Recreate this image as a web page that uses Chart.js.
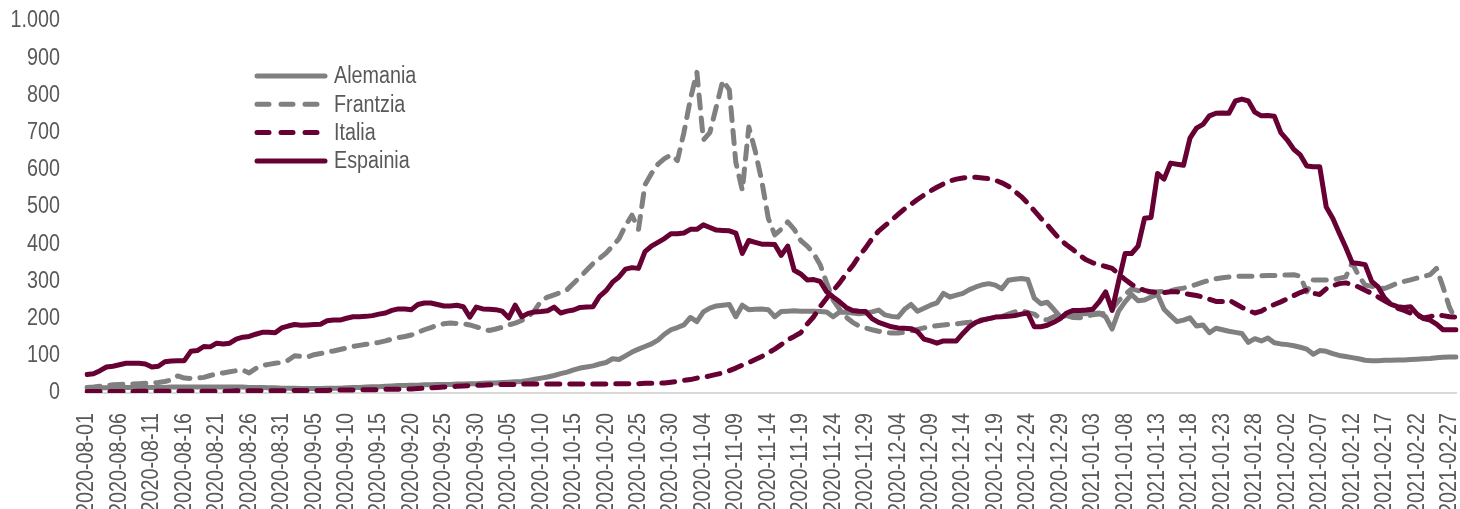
<!DOCTYPE html>
<html>
<head>
<meta charset="utf-8">
<script src="https://cdn.jsdelivr.net/npm/chart.js@4.4.1/dist/chart.umd.min.js"></script>
<style>
html,body{margin:0;padding:0;background:#ffffff;overflow:hidden;}
canvas{display:block;}
</style>
</head>
<body>
<canvas id="c" width="1460" height="509"></canvas>
<script>
// ---- categories: daily dates 2020-08-01 .. 2021-02-28 ----
const START_DATE = '2020-08-01';
const N_DAYS = 212;
const dates = [];
for (let i = 0; i < N_DAYS; i++) {
  const d = new Date(START_DATE + 'T00:00:00Z');
  d.setUTCDate(d.getUTCDate() + i);
  dates.push(d.toISOString().slice(0, 10));
}
const LABEL_EVERY = 5;

// ---- series names ----
const seriesNames = ['Alemania', 'Frantzia', 'Italia', 'Espainia'];

// ---- series values ----
const alemania = [
 14,14,14,14,14,15,15,15,15,15,
 15,15,15,16,16,16,16,16,16,16,
 16,16,16,16,16,15,15,15,14,14,
 13,13,13,12,12,12,12,13,13,13,
 14,15,15,16,17,17,18,19,20,20,
 21,21,22,22,23,23,23,24,24,25,
 25,26,27,27,28,29,30,31,34,37,
 40,43,47,52,56,62,67,70,73,78,
 82,92,90,100,110,118,125,132,142,158,
 170,176,183,203,192,218,228,234,236,238,
 205,236,224,225,226,224,205,219,220,221,
 220,220,220,219,218,205,218,217,215,213,
 215,218,223,210,206,204,225,238,220,228,
 236,242,268,258,263,268,278,285,291,294,
 290,280,303,306,308,305,255,240,244,225,
 205,208,212,213,213,214,215,205,172,220,
 245,265,248,250,258,265,225,208,192,196,
 202,180,183,162,174,170,166,163,160,136,
 146,140,148,135,132,130,127,123,118,104,
 114,112,106,101,98,95,92,88,87,87,
 88,88,89,89,90,91,92,93,95,96,
 97,97
];
const frantzia = [
 15,16,18,20,22,23,24,24,25,26,
 27,28,31,35,46,40,39,40,42,47,
 52,54,57,60,62,54,66,74,77,80,
 82,88,100,98,97,103,106,110,113,117,
 121,125,128,131,133,136,140,145,149,152,
 156,163,170,176,182,186,188,187,186,183,
 178,172,168,172,177,183,188,195,205,222,
 248,258,264,270,278,295,312,330,348,362,
 376,395,415,450,478,440,560,590,615,630,
 640,625,700,790,862,680,700,770,840,815,
 620,545,715,650,570,470,425,440,460,440,
 410,395,375,345,296,250,225,204,190,180,
 175,170,166,163,161,161,163,167,171,175,
 178,181,183,185,186,188,190,193,197,200,
 203,206,212,218,222,216,212,200,196,205,
 210,208,203,202,206,210,212,215,225,248,
 265,280,275,272,271,272,273,275,279,282,
 286,292,298,303,307,310,312,313,314,314,
 314,315,316,316,317,317,318,314,272,304,
 304,304,304,308,312,350,315,290,287,283,
 281,288,296,300,304,309,313,318,335,285,
 230,195
];
const italia = [
 4,4,4,4,4,4,4,4,5,5,
 5,5,5,5,5,5,5,5,5,5,
 5,5,5,6,6,6,6,6,6,6,
 6,6,7,7,7,7,7,7,8,8,
 8,8,9,9,9,9,10,10,10,11,
 11,12,13,14,15,16,17,18,19,20,
 21,21,22,22,23,23,23,24,24,24,
 24,24,24,24,24,24,24,24,24,24,
 24,25,25,25,25,25,26,26,26,27,
 29,31,34,36,40,42,46,50,54,60,
 67,75,82,90,98,108,118,130,143,152,
 162,185,205,232,255,275,296,320,342,368,
 390,415,435,450,465,480,495,507,520,532,
 543,553,562,570,575,578,580,580,578,576,
 572,565,556,542,528,510,490,470,452,432,
 412,398,385,370,358,350,345,340,335,320,
 305,292,282,276,272,270,270,272,272,268,
 265,262,258,252,246,246,250,240,230,222,
 215,220,230,238,245,253,262,270,277,268,
 265,280,288,294,296,292,285,276,268,258,
 248,238,228,222,215,208,202,205,210,208,
 205,204
];
const espainia = [
 50,52,60,70,72,76,80,80,80,78,
 70,72,84,86,87,87,112,114,125,124,
 134,132,134,145,150,152,158,163,163,162,
 175,180,184,182,183,184,185,194,196,196,
 201,205,205,206,208,212,215,222,226,226,
 224,238,242,242,238,234,234,236,232,204,
 231,226,225,224,220,202,236,205,214,218,
 219,221,231,215,220,223,230,231,232,260,
 275,298,312,333,337,335,380,395,405,415,
 428,428,430,440,440,452,445,438,437,436,
 430,375,410,405,400,400,399,370,395,330,
 320,304,305,300,272,258,245,230,222,220,
 219,200,190,184,178,175,174,173,165,145,
 140,134,140,140,140,160,178,190,196,200,
 204,205,206,208,212,215,178,178,182,190,
 200,215,222,222,223,225,245,272,222,300,
 375,375,395,470,472,590,575,618,615,612,
 685,712,722,745,752,753,752,785,790,785,
 755,745,746,744,700,680,655,640,610,608,
 608,500,470,430,392,350,348,345,300,285,
 255,238,232,230,232,212,200,196,185,170,
 170,170
];

// ---- y tick labels ----
const yMin = 0, yMax = 1000, yStep = 100;

// ---- styles ----
const GREY = '#808080';
const MAROON = '#670033';
const TEXT = '#595959';
const FONT = "'Liberation Sans', Arial, sans-serif";
const FONT_SIZE = 23.5;
const CONDENSE = 0.84;   // emulate a narrow face (Arial Narrow look)
const DASH = [13, 10];

function fmtThousands(v) {
  return String(v).replace(/\B(?=(\d{3})+(?!\d))/g, '.');
}

const canvas = document.getElementById('c');
const ctx2d = canvas.getContext('2d');
// horizontally condense all canvas text around its anchor (text stays real text)
(function () {
  const origFill = ctx2d.fillText;
  const origMeasure = ctx2d.measureText;
  ctx2d.fillText = function (text, x, y, maxWidth) {
    this.save();
    this.translate(x, y);
    this.scale(CONDENSE, 1);
    if (maxWidth === undefined) origFill.call(this, text, 0, 0);
    else origFill.call(this, text, 0, 0, maxWidth / CONDENSE);
    this.restore();
  };
  ctx2d.measureText = function (text) {
    const m = origMeasure.call(this, text);
    return {
      width: m.width * CONDENSE,
      actualBoundingBoxAscent: m.actualBoundingBoxAscent,
      actualBoundingBoxDescent: m.actualBoundingBoxDescent,
      actualBoundingBoxLeft: m.actualBoundingBoxLeft * CONDENSE,
      actualBoundingBoxRight: m.actualBoundingBoxRight * CONDENSE
    };
  };
})();

const datasets = [
  { label: seriesNames[0], data: alemania, borderColor: GREY, borderDash: [], order: 3 },
  { label: seriesNames[1], data: frantzia, borderColor: GREY, borderDash: DASH, order: 2 },
  { label: seriesNames[2], data: italia, borderColor: MAROON, borderDash: DASH, order: 1 },
  { label: seriesNames[3], data: espainia, borderColor: MAROON, borderDash: [], order: 0 }
].map(d => Object.assign({
  borderWidth: 5,
  pointRadius: 0,
  pointHoverRadius: 0,
  tension: 0,
  fill: false,
  borderCapStyle: 'round',
  borderJoinStyle: 'round'
}, d));

const insideLegend = {
  id: 'insideLegend',
  afterDatasetsDraw(chart) {
    const ctx = chart.ctx;
    const x0 = 257, x1 = 325, tx = 334, y0 = 76, dy = 28.3;
    ctx.save();
    chart.data.datasets.forEach((ds, i) => {
      const y = y0 + i * dy;
      ctx.beginPath();
      ctx.lineWidth = 5;
      ctx.lineCap = 'round';
      ctx.strokeStyle = ds.borderColor;
      ctx.setLineDash(ds.borderDash.length ? [12, 12] : []);
      ctx.moveTo(x0, y);
      ctx.lineTo(x1, y);
      ctx.stroke();
      ctx.setLineDash([]);
      ctx.fillStyle = TEXT;
      ctx.font = FONT_SIZE + 'px ' + FONT;
      ctx.textBaseline = 'middle';
      ctx.textAlign = 'left';
      ctx.fillText(ds.label, tx, y + 1);
    });
    ctx.restore();
  }
};

Chart.defaults.font.family = FONT;
Chart.defaults.font.size = FONT_SIZE;
Chart.defaults.color = TEXT;

new Chart(ctx2d, {
  type: 'line',
  data: { labels: dates, datasets: datasets },
  options: {
    responsive: false,
    animation: false,
    devicePixelRatio: 1,
    layout: { padding: { top: 21, right: 4, left: 0, bottom: 0 } },
    plugins: { legend: { display: false }, tooltip: { enabled: false } },
    scales: {
      x: {
        type: 'category',
        offset: false,
        grid: { display: false, drawTicks: false },
        border: { display: true, color: '#d9d9d9', width: 2 },
        ticks: {
          autoSkip: false,
          minRotation: 90,
          maxRotation: 90,
          padding: 20,
          color: TEXT,
          font: { size: FONT_SIZE, family: FONT },
          callback: function (val, idx) {
            return idx % LABEL_EVERY === 0 ? dates[idx] : null;
          }
        },
        afterFit: function (s) { s.height = 116; s.paddingLeft = 0; s.paddingRight = 0; }
      },
      y: {
        min: yMin,
        max: yMax,
        grid: { display: false, drawTicks: false },
        border: { display: false },
        ticks: {
          stepSize: yStep,
          padding: 27,
          color: TEXT,
          font: { size: FONT_SIZE, family: FONT },
          callback: v => fmtThousands(v)
        },
        afterFit: function (s) { s.width = 87; s.paddingTop = 0; s.paddingBottom = 0; }
      }
    }
  },
  plugins: [insideLegend]
});
</script>
</body>
</html>
